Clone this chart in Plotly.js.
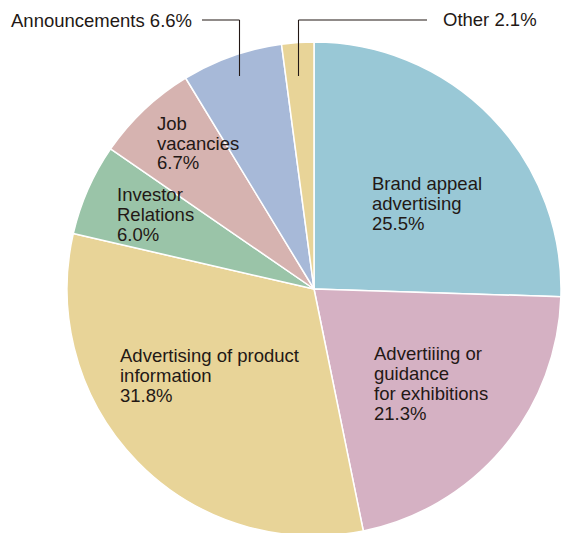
<!DOCTYPE html>
<html>
<head>
<meta charset="utf-8">
<script src="https://cdn.plot.ly/plotly-3.0.1.min.js"></script>
<style>html,body{margin:0;padding:0;background:#fff;overflow:hidden;}#chart{width:561px;height:536px;}</style>
</head>
<body>
<div id="chart"></div>
<script>
// Data
const categories = [
  ["Brand appeal", "advertising"],
  ["Advertiiing or", "guidance", "for exhibitions"],
  ["Advertising of product", "information"],
  ["Investor", "Relations"],
  ["Job", "vacancies"],
  ["Announcements"],
  ["Other"]
];
const shares = [25.5, 21.3, 31.8, 6.0, 6.7, 6.6, 2.1];
const sliceColors = ["#99c8d6", "#d5b1c3", "#e8d498", "#9ac4a8", "#d6b3b0", "#a7b9d8", "#e8d498"];

const W = 561, H = 536;
const px = x => x / W;
const py = y => 1 - y / H;
const textColor = "#231815";
const fontFam = "Liberation Sans, Arial, Helvetica, sans-serif";
const FS = 18.5;

const trace = {
  type: "pie",
  values: shares,
  labels: categories.map(c => c.join(" ")),
  marker: {colors: sliceColors, line: {color: "#ffffff", width: 1.5}},
  sort: false,
  direction: "clockwise",
  rotation: 0,
  textinfo: "none",
  hoverinfo: "none",
  showlegend: false,
  domain: {x: [67 / W, 1], y: [0, 494 / H]}
};

// label placements: left x, first baseline y, line spacing, inline percent
const labelPos = [
  [369.5, 189.5, 20, false],
  [371.5, 359.5, 20, false],
  [118, 361.5, 20, false],
  [115, 201, 20, false],
  [154.5, 130, 19.5, false],
  [8.5, 26.5, 20, true],
  [440.5, 26, 20, true]
];

const annotations = [];
categories.forEach((c, i) => {
  const [lx, by, sp, inline] = labelPos[i];
  const pct = shares[i].toFixed(1) + "%";
  const lines = inline ? [c.join(" ") + " " + pct] : c.concat([pct]);
  lines.forEach((ln, k) => {
    annotations.push({
      x: px(lx), y: py(by + k * sp - 6.2),
      xref: "paper", yref: "paper",
      xanchor: "left", yanchor: "middle", align: "left",
      showarrow: false,
      text: ln,
      font: {family: fontFam, size: FS, color: textColor}
    });
  });
});

const lineStyle = {color: "#231815", width: 1.1};
const shapes = [
  // Announcements leader
  {type: "line", xref: "paper", yref: "paper", x0: px(202), y0: py(20), x1: px(239.5), y1: py(20), line: lineStyle},
  {type: "line", xref: "paper", yref: "paper", x0: px(239.5), y0: py(20), x1: px(239.5), y1: py(76), line: lineStyle},
  // Other leader
  {type: "line", xref: "paper", yref: "paper", x0: px(427), y0: py(20), x1: px(298.5), y1: py(20), line: lineStyle},
  {type: "line", xref: "paper", yref: "paper", x0: px(298.5), y0: py(20), x1: px(298.5), y1: py(76), line: lineStyle}
];

const layout = {
  width: W, height: H,
  margin: {l: 0, r: 0, t: 0, b: 0},
  paper_bgcolor: "#ffffff",
  annotations: annotations,
  shapes: shapes,
  font: {family: fontFam}
};

Plotly.newPlot("chart", [trace], layout, {staticPlot: true, displayModeBar: false});
</script>
</body>
</html>
